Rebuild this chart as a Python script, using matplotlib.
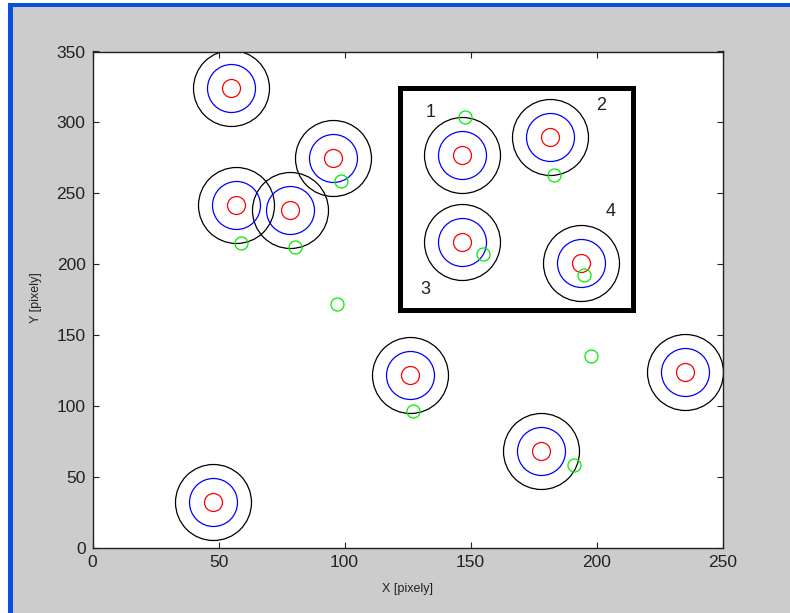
import matplotlib
matplotlib.use("Agg")
import matplotlib.pyplot as plt
from matplotlib.patches import Rectangle

# Target centres (red/blue/black concentric circles)
target_x = [55, 57, 78.5, 95.5, 126, 48, 178, 235, 146.5, 181.5, 146.5, 194]
target_y = [324, 241.5, 238, 275, 121.5, 32.5, 68.5, 124, 277, 290, 215.5, 201]
# Green detection points
green_x = [59, 80.5, 98.5, 97, 127, 191, 198, 148, 183, 155, 195]
green_y = [215, 212, 259, 172, 96.5, 58, 135, 304, 263, 207.5, 192]
# Inset box and its labels
box_x = [122, 214.5]
box_y = [167.5, 324.5]
label_text = ["1", "2", "3", "4"]
label_x = [134, 202, 132, 205.5]
label_y = [307, 312, 182, 237]

xticks = [0, 50, 100, 150, 200, 250]
yticks = [0, 50, 100, 150, 200, 250, 300, 350]

W, H = 790, 613
fig = plt.figure(figsize=(W / 100, H / 100), dpi=100, facecolor="white")

# window frame: gray background, blue borders
fig.patches.append(Rectangle((13 / W, 0), 1, (H - 7) / H, transform=fig.transFigure,
                             facecolor="#cccccc", edgecolor="none", zorder=-10))
fig.patches.append(Rectangle((8 / W, 0), 5 / W, (H - 3) / H, transform=fig.transFigure,
                             facecolor="#0a4fe0", edgecolor="none", zorder=-9))
fig.patches.append(Rectangle((8 / W, (H - 7) / H), 1, 4 / H, transform=fig.transFigure,
                             facecolor="#0a4fe0", edgecolor="none", zorder=-9))

ax = fig.add_axes([92.5 / W, (H - 547.7) / H, 630 / W, 496.2 / H])
ax.set_facecolor("white")
ax.set_xlim(0, 250)
ax.set_ylim(0, 350)

px = 0.72  # points per pixel
ax.plot(target_x, target_y, "o", mfc="none", mec="black", ms=76 * px, mew=0.9)
ax.plot(target_x, target_y, "o", mfc="none", mec="#0000ff", ms=48 * px, mew=0.9)
ax.plot(target_x, target_y, "o", mfc="none", mec="#ff0000", ms=18 * px, mew=0.9)
ax.plot(green_x, green_y, "o", mfc="none", mec="#00ee00", ms=13 * px, mew=0.9)

ax.add_patch(Rectangle((box_x[0], box_y[0]), box_x[1] - box_x[0], box_y[1] - box_y[0],
                       facecolor="none", edgecolor="black", linewidth=3.6))
for t, x, y in zip(label_text, label_x, label_y):
    ax.text(x, y, t, fontsize=13, color="#222222", ha="center", va="center",
            family="Liberation Sans")

ax.set_xticks(xticks)
ax.set_yticks(yticks)
ax.tick_params(direction="in", length=4.5, width=0.8, top=True, right=True,
               labelsize=12.5, colors="#222222", pad=5)
for lbl in ax.get_xticklabels() + ax.get_yticklabels():
    lbl.set_family("Liberation Sans")
for s in ax.spines.values():
    s.set_linewidth(1.0)
    s.set_color("#222222")

fig.text(407 / W, 1 - 589 / H, "X [pixely]", fontsize=9, ha="center", va="center",
         color="#222222", family="Liberation Sans")
fig.text(36 / W, 1 - 298 / H, "Y [pixely]", fontsize=9, ha="center", va="center",
         rotation=90, color="#222222", family="Liberation Sans")

fig.savefig("out.png", dpi=100, facecolor=fig.get_facecolor())
